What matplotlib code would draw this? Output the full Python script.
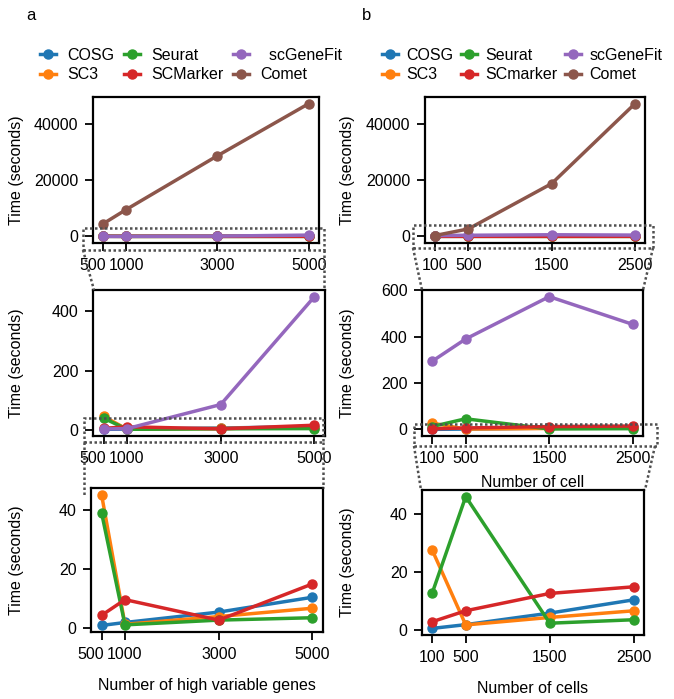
import matplotlib
matplotlib.use("Agg")
import matplotlib.pyplot as plt
from matplotlib.lines import Line2D
from matplotlib.patches import Rectangle
from matplotlib.ticker import FixedLocator
from matplotlib.transforms import ScaledTranslation

plt.rcParams['font.family'] = ['Liberation Sans', 'DejaVu Sans']
plt.rcParams['font.size'] = 11.5

# data -------------------------------------------------------------
x_genes = [500, 1000, 3000, 5000]
x_cells = [100, 500, 1500, 2500]

methods_a = ['COSG', 'SC3', 'Seurat', 'SCMarker', '  scGeneFit', 'Comet']
methods_b = ['COSG', 'SC3', 'Seurat', 'SCmarker', 'scGeneFit', 'Comet']
colors = ['#1f77b4', '#ff7f0e', '#2ca02c', '#d62728', '#9467bd', '#8c564b']

# time (seconds) vs number of high variable genes
cosg_a = [1.0, 2.0, 5.5, 10.5]
sc3_a = [45.1, 1.4, 4.0, 6.8]
seurat_a = [39.0, 1.2, 2.8, 3.6]
scmarker_a = [4.4, 9.7, 2.8, 15.0]
scgenefit_a = [2.5, 3.5, 85.0, 450.0]
comet_a = [4500, 9500, 28600, 47100]

# time (seconds) vs number of cells
cosg_b = [0.5, 1.8, 5.8, 10.4]
sc3_b = [27.7, 1.7, 4.3, 6.6]
seurat_b = [12.6, 46.1, 2.3, 3.5]
scmarker_b = [2.8, 6.6, 12.6, 14.9]
scgenefit_b = [294, 390, 573, 453]
comet_b = [300, 2650, 18800, 47300]

series_a = [cosg_a, sc3_a, seurat_a, scmarker_a, scgenefit_a, comet_a]
series_b = [cosg_b, sc3_b, seurat_b, scmarker_b, scgenefit_b, comet_b]

W, H = 674, 699
fig = plt.figure(figsize=(W / 100, H / 100), dpi=100)


def fx(p):
    return p / W


def fy(p):
    return 1 - p / H


def add_ax(l, t, r, b):
    return fig.add_axes([l / W, 1 - b / H, (r - l) / W, (b - t) / H])


def style(ax, xs, yticks, label_right_px, left_px):
    for s in ax.spines.values():
        s.set_linewidth(1.6)
    ax.tick_params(direction='out', length=6, width=1.3, labelsize=11.5, pad=4.5)
    ax.xaxis.set_major_locator(FixedLocator(xs))
    ax.yaxis.set_major_locator(FixedLocator(yticks))
    ax.set_ylabel('Time (seconds)', fontsize=11.5)
    w = ax.get_position().width * W
    ax.yaxis.set_label_coords((label_right_px - left_px) / w, 0.5)


def draw(ax, xs, data, n):
    for i in range(n):
        ax.plot(xs, data[i], '-o', color=colors[i], lw=2.5, ms=6.5)


# panel a
ax_a1 = add_ax(93, 97, 319, 243)
ax_a2 = add_ax(93, 290, 325, 436)
ax_a3 = add_ax(91, 488, 323, 632)
draw(ax_a1, x_genes, series_a, 6)
draw(ax_a2, x_genes, series_a, 5)
draw(ax_a3, x_genes, series_a, 4)
style(ax_a1, x_genes, [0, 20000, 40000], 24, 93)
style(ax_a2, x_genes, [0, 200, 400], 24, 93)
style(ax_a3, x_genes, [0, 20, 40], 24, 91)
ax_a3.set_xlabel('Number of high variable genes', fontsize=11.5, labelpad=12)

# "500" label sits a bit left of its tick so it does not run into "1000"
for ax in (ax_a1, ax_a2, ax_a3):
    lbl = ax.get_xticklabels()[0]
    lbl.set_transform(lbl.get_transform() + ScaledTranslation(-0.11, 0, fig.dpi_scale_trans))

# panel b
ax_b1 = add_ax(425, 97, 645, 243)
ax_b2 = add_ax(422, 290, 643, 436)
ax_b3 = add_ax(422, 490, 644, 635)
draw(ax_b1, x_cells, series_b, 6)
draw(ax_b2, x_cells, series_b, 5)
draw(ax_b3, x_cells, series_b, 4)
style(ax_b1, x_cells, [0, 20000, 40000], 355, 425)
style(ax_b2, x_cells, [0, 200, 400, 600], 355, 422)
style(ax_b3, x_cells, [0, 20, 40], 355, 422)
ax_b2.set_xlabel('Number of cell', fontsize=11.5, labelpad=7)
ax_b3.set_xlabel('Number of cells', fontsize=11.5, labelpad=12)

# dotted zoom boxes and connectors (figure pixels)
dot = dict(color='#505050', lw=1.8, linestyle=(0, (1, 1)))


def zoom_box(l, t, r, b, lines):
    fig.add_artist(Rectangle((fx(l), fy(b)), fx(r) - fx(l), fy(t) - fy(b),
                             transform=fig.transFigure, fill=False, **dot))
    for (x0, y0, x1, y1) in lines:
        fig.add_artist(Line2D([fx(x0), fx(x1)], [fy(y0), fy(y1)],
                              transform=fig.transFigure, **dot))


zoom_box(83, 228, 324, 250, [(83, 250, 94, 290), (324, 250, 324, 290)])
zoom_box(84, 418, 323, 442, [(84, 442, 84, 495), (323, 442, 323, 488)])
zoom_box(413, 225, 653, 248, [(413, 248, 422, 290), (653, 248, 643, 290)])
zoom_box(414, 424, 657, 446, [(414, 446, 421, 490), (655, 446, 645, 490)])

# legends
handles = [Line2D([], [], color=c, marker='o', lw=2.5, ms=6.5) for c in colors]
leg_kw = dict(ncol=3, frameon=False, fontsize=11.5, handlelength=1.0,
              labelspacing=0.3, borderpad=0, borderaxespad=0, loc='center left')
fig.legend(handles, methods_a, bbox_to_anchor=(fx(40), fy(65)),
           handletextpad=0.7, columnspacing=0.6, **leg_kw)
fig.legend(handles, methods_b, bbox_to_anchor=(fx(382), fy(65)),
           handletextpad=0.5, columnspacing=0.5, **leg_kw)

fig.text(fx(31), fy(15), 'a', fontsize=12, ha='center', va='center')
fig.text(fx(367), fy(15), 'b', fontsize=12, ha='center', va='center')

fig.savefig('out.png', dpi=100)
